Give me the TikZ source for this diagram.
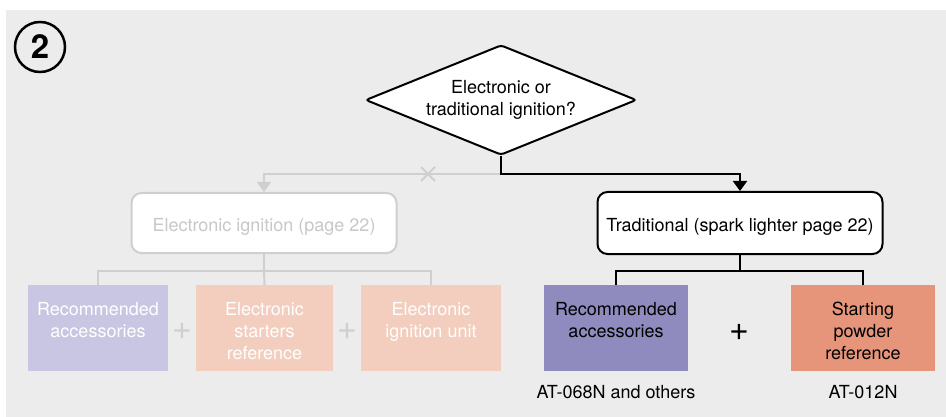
\documentclass[tikz,border=0pt]{standalone}
\usepackage{fontspec}
\setmainfont{TeX Gyre Heros}
\usetikzlibrary{shapes.geometric,arrows.meta,calc}
\definecolor{bgc}{HTML}{ECECEC}
\definecolor{fadeln}{HTML}{CFCFCF}
\definecolor{fadetxt}{HTML}{C8C8C8}
\definecolor{lpurple}{HTML}{C8C6E2}
\definecolor{lorange}{HTML}{F3CDBD}
\definecolor{dpurple}{HTML}{8F8BBF}
\definecolor{dorange}{HTML}{E6957A}
\tikzset{
  txt/.style={font=\fontsize{18}{22}\selectfont, align=center, inner sep=0pt},
  cbox/.style={minimum width=140pt, minimum height=86pt, inner sep=0pt, draw=none},
  rbox/.style={rounded corners=10pt, line width=2pt, fill=white, font=\fontsize{18}{22}\selectfont, inner sep=0pt, text height=18pt, text depth=0pt},
  conn/.style={line width=2pt},
  fconn/.style={line width=2pt, draw=fadeln},
  tip/.style={-{Triangle[width=14pt,length=10pt]}},
  plussign/.style={font=\fontsize{34}{34}\selectfont, inner sep=0pt},
}
\begin{document}
\begin{tikzpicture}[x=1pt,y=-1pt]
\fill[white] (0,0) rectangle (946,417);
\fill[bgc] (6,10) rectangle (946,417);
\useasboundingbox (0,0) rectangle (946,417);

% step number
\node[circle, draw, line width=2.5pt, minimum size=50pt, inner sep=0pt, font=\bfseries\fontsize{33}{33}\selectfont] (num) at (40,47) {2};

% decision
\node[diamond, draw, line width=2pt, fill=white, rounded corners=3pt, minimum width=271pt, minimum height=110pt, inner sep=0pt, aspect=2.46, txt] (dia) at (501,100) {Electronic or\\traditional ignition?};

% second level
\node[rbox, draw=fadeln, text=fadetxt, minimum width=265pt, minimum height=60pt] (elec) at (264,223) {Electronic ignition (page 22)};
\node[rbox, draw=black, minimum width=285pt, minimum height=62pt] (trad) at (740,223) {Traditional (spark lighter page 22)};

\coordinate (j) at (501,174);
\coordinate (xm) at (428,174);
\draw[fconn, -{Triangle[width=14pt,length=10pt,fill=fadeln]}, color=fadeln] (j) -| (elec.north);
\draw[conn, tip] (dia.south) -- (j) -| (trad.north);
\draw[fadeln, line width=2pt] ($(xm)+(-7,-7)$) -- ($(xm)+(7,7)$) ($(xm)+(-7,7)$) -- ($(xm)+(7,-7)$);

% electronic branch (faded)
\node[cbox, fill=lpurple] (era) at (98,328) {};
\node[cbox, fill=lorange, minimum width=137pt] (esr) at (264.5,328) {};
\node[cbox, fill=lorange] (eiu) at (431,328) {};
\node[txt, text=white, anchor=north] at ([yshift=-17pt]era.north) {Recommended\\accessories};
\node[txt, text=white, anchor=north] at ([yshift=-17pt]esr.north) {Electronic\\starters\\reference};
\node[txt, text=white, anchor=north] at ([yshift=-17pt]eiu.north) {Electronic\\ignition unit};
\node[plussign, text=fadeln] (ep1) at (182,331) {+};
\node[plussign, text=fadeln] (ep2) at (347,331) {+};
\coordinate (ej) at (264,271);
\draw[fconn] (elec.south) -- (ej);
\draw[fconn] (era.north) |- (ej) -| (eiu.north);
\draw[fconn] (ej) -- (esr.north);

% traditional branch
\node[cbox, fill=dpurple, minimum width=144pt] (tra) at (616,328) {};
\node[cbox, fill=dorange, minimum width=144pt] (tsp) at (863,328) {};
\node[txt, anchor=north] at ([yshift=-17pt]tra.north) {Recommended\\accessories};
\node[txt, anchor=north] at ([yshift=-17pt]tsp.north) {Starting\\powder\\reference};
\node[plussign] (tp) at (739,332) {+};
\coordinate (tj) at (740,271);
\draw[conn] (trad.south) -- (tj);
\draw[conn] (tra.north) |- (tj) -| (tsp.north);

\node[txt] (lab1) at (616,392) {AT-068N and others};
\node[txt] (lab2) at (863,392) {AT-012N};
\end{tikzpicture}
\end{document}
